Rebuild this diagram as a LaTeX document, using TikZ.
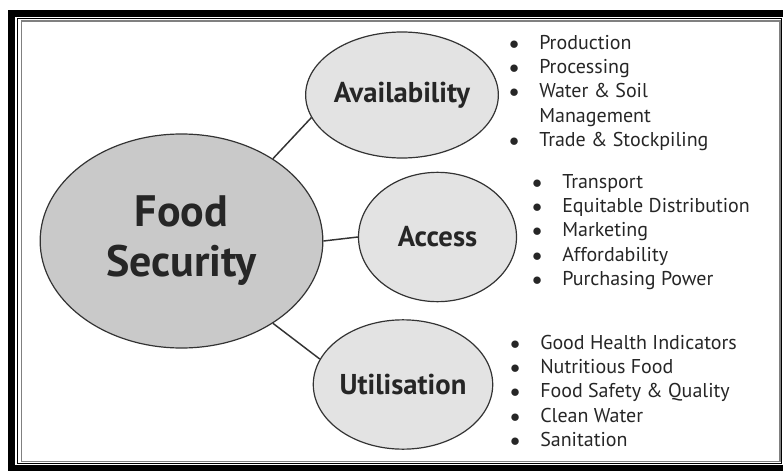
\documentclass[tikz,border=0pt]{standalone}
\usepackage{fontspec}
\setmainfont{PT Sans}
\usetikzlibrary{shapes.geometric, positioning}

\newcommand{\bul}{\makebox[22.5pt][l]{$\bullet$}}
\newcommand{\nobul}{\makebox[22.5pt][l]{}}

\begin{document}
\begin{tikzpicture}[
    x=0.75pt, y=-0.75pt,
    hub/.style={ellipse, draw=black!80, line width=0.9pt, fill=gray!42, minimum width=212pt, minimum height=160.5pt, inner sep=0pt, align=center, text=black!85, font=\bfseries\fontsize{33}{37.5}\selectfont},
    pillar/.style={ellipse, draw=black!80, line width=0.9pt, fill=gray!22, minimum width=118.5pt, minimum height=97pt, inner sep=0pt, text=black!85, font=\bfseries\fontsize{21.5}{24}\selectfont},
    items/.style={anchor=base west, inner sep=0pt, text=black!85, font=\fontsize{15}{18.3}\selectfont},
    link/.style={draw=black!80, line width=1.1pt}
]
    \useasboundingbox (0,0) rectangle (783,471);
    % frame
    \draw[line width=5.25pt] (11,13.5) rectangle (790,468.5);
    \draw[line width=0.9pt] (17.5,18.7) rectangle (781.5,463.8);
    \draw[gray, line width=1.1pt] (21.5,21) rectangle (780,461.5);

    % ellipses
    \node[hub] (food) at (181.5,241) {Food\\Security};
    \node[pillar, minimum height=94.5pt] (avail) at (402,95) {Availability};
    \node[pillar] (access) at (437.5,237) {Access};
    \node[pillar] (util) at (403,384.5) {Utilisation};

    \draw[link] (food.42) -- (avail.194);
    \draw[link] (food.east) -- (access.west);
    \draw[link] (food.-42) -- (util.163);

    % lists
    \node[items] (availlist) at (509,49) {\begin{tabular}[t]{@{}l@{}}
        \bul Production\\
        \bul Processing\\
        \bul Water \& Soil\\
        \nobul Management\\
        \bul Trade \& Stockpiling
    \end{tabular}};
    \node[items] (accesslist) at (532,188) {\begin{tabular}[t]{@{}l@{}}
        \bul Transport\\
        \bul Equitable Distribution\\
        \bul Marketing\\
        \bul Affordability\\
        \bul Purchasing Power
    \end{tabular}};
    \node[items] (utillist) at (510,349) {\begin{tabular}[t]{@{}l@{}}
        \bul Good Health Indicators\\
        \bul Nutritious Food\\
        \bul Food Safety \& Quality\\
        \bul Clean Water\\
        \bul Sanitation
    \end{tabular}};
\end{tikzpicture}
\end{document}
